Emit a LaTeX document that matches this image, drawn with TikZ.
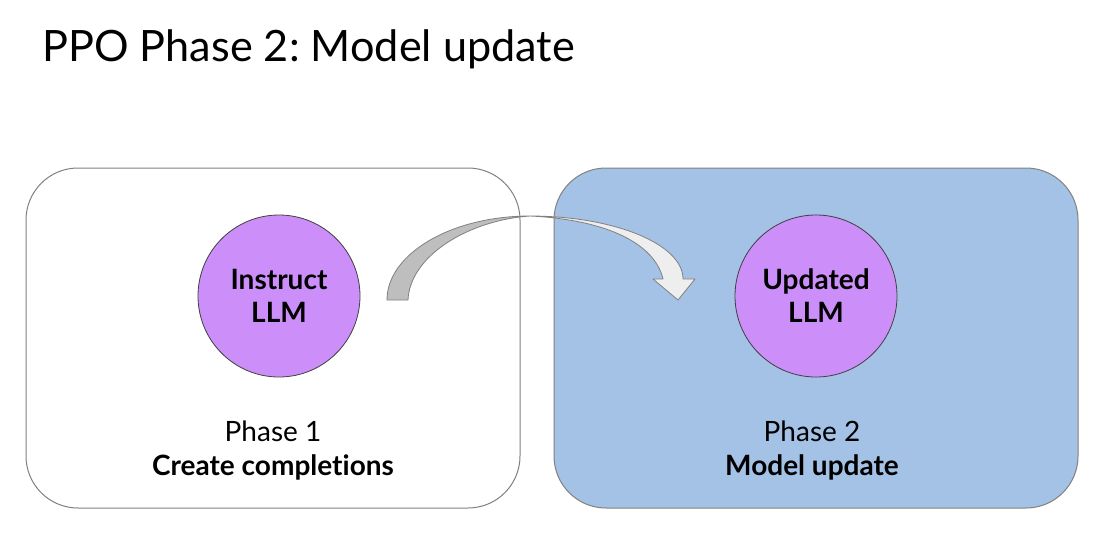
\documentclass[tikz,border=0pt]{standalone}
\usepackage{fontspec}
\setmainfont{Lato}[Ligatures=NoCommon]
\frenchspacing
\usetikzlibrary{positioning}
\definecolor{cpurple}{RGB}{204,143,250}
\definecolor{cblue}{RGB}{164,194,230}
\definecolor{cback}{RGB}{190,190,190}
\definecolor{cfront}{RGB}{238,238,238}
\definecolor{cedge}{RGB}{128,128,128}

\begin{document}
\begin{tikzpicture}[
  x=0.5pt, y=-0.5pt,
  phasebox/.style={draw=cedge, rounded corners=26pt, minimum height=170pt,
    line width=0.5pt},
  llm/.style={circle, draw=black!75, fill=cpurple, minimum size=81pt,
    inner sep=0pt, align=center, line width=0.4pt,
    font=\fontsize{14}{16.5}\selectfont\bfseries},
  lab/.style={align=center, font=\fontsize{14}{17}\selectfont},
  twist/.style={draw=cedge, line width=0.4pt, line join=round},
]
\useasboundingbox (0,0) rectangle (1097,547);
\node[anchor=base west, inner sep=0pt, font=\fontsize{21.6}{26}\selectfont]
  (title) at (42,61) {PPO Phase 2: Model update};

% the two phases
\node[phasebox, fill=white, minimum width=247pt] (p1) at (273,338) {};
\node[phasebox, fill=cblue, minimum width=262pt] (p2) at (816,338) {};

\node[llm] (instruct) at (279,296) {Instruct\\LLM};
\node[llm] (updated) at (816,296) {Updated\\LLM};

\node[lab] (p1lab) at (273,451) {Phase 1\\\textbf{Create completions}};
\node[lab] (p2lab) at (812,451) {Phase 2\\\textbf{Model update}};

% curved arrow, back side then front side
\filldraw[twist, fill=cback] (387,300) .. controls (387,254) and (451,216) .. (530,216)
  .. controls (470,220) and (410,255) .. (408,300) -- cycle;
\filldraw[twist, fill=cfront] (530,216) .. controls (614,216) and (683,244) .. (683,279)
  -- (695,279) -- (678,300) -- (653,279) -- (663,279)
  .. controls (655,245) and (610,220) .. (530,216) -- cycle;
\end{tikzpicture}
\end{document}
